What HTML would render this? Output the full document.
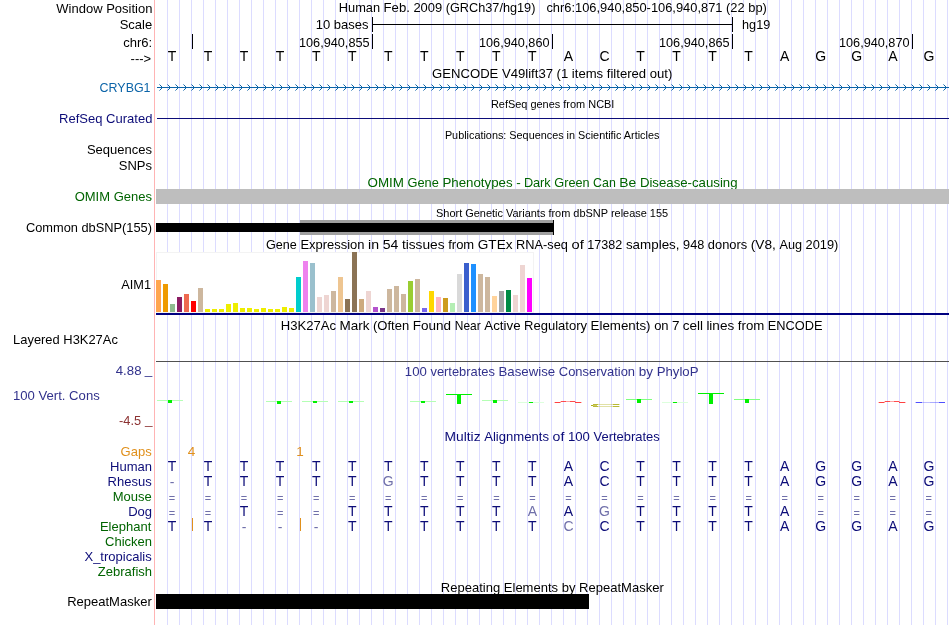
<!DOCTYPE html>
<html><head><meta charset="utf-8"><title>UCSC Genome Browser</title>
<style>html,body{margin:0;padding:0;background:#fff}svg{display:block}text{font-family:"Liberation Sans",Arial,sans-serif}</style>
</head><body>
<svg width="950" height="625" viewBox="0 0 950 625">
<rect x="0" y="0" width="950" height="625" fill="#fff"/>
<rect x="167" y="0" width="1" height="625" fill="#DCDCFF"/>
<rect x="179" y="0" width="1" height="625" fill="#DCDCFF"/>
<rect x="191" y="0" width="1" height="625" fill="#DCDCFF"/>
<rect x="203" y="0" width="1" height="625" fill="#DCDCFF"/>
<rect x="215" y="0" width="1" height="625" fill="#DCDCFF"/>
<rect x="227" y="0" width="1" height="625" fill="#DCDCFF"/>
<rect x="239" y="0" width="1" height="625" fill="#DCDCFF"/>
<rect x="251" y="0" width="1" height="625" fill="#DCDCFF"/>
<rect x="263" y="0" width="1" height="625" fill="#DCDCFF"/>
<rect x="275" y="0" width="1" height="625" fill="#DCDCFF"/>
<rect x="287" y="0" width="1" height="625" fill="#DCDCFF"/>
<rect x="299" y="0" width="1" height="625" fill="#DCDCFF"/>
<rect x="311" y="0" width="1" height="625" fill="#DCDCFF"/>
<rect x="323" y="0" width="1" height="625" fill="#DCDCFF"/>
<rect x="335" y="0" width="1" height="625" fill="#DCDCFF"/>
<rect x="347" y="0" width="1" height="625" fill="#DCDCFF"/>
<rect x="359" y="0" width="1" height="625" fill="#DCDCFF"/>
<rect x="371" y="0" width="1" height="625" fill="#DCDCFF"/>
<rect x="383" y="0" width="1" height="625" fill="#DCDCFF"/>
<rect x="395" y="0" width="1" height="625" fill="#DCDCFF"/>
<rect x="407" y="0" width="1" height="625" fill="#DCDCFF"/>
<rect x="419" y="0" width="1" height="625" fill="#DCDCFF"/>
<rect x="431" y="0" width="1" height="625" fill="#DCDCFF"/>
<rect x="443" y="0" width="1" height="625" fill="#DCDCFF"/>
<rect x="455" y="0" width="1" height="625" fill="#DCDCFF"/>
<rect x="467" y="0" width="1" height="625" fill="#DCDCFF"/>
<rect x="479" y="0" width="1" height="625" fill="#DCDCFF"/>
<rect x="491" y="0" width="1" height="625" fill="#DCDCFF"/>
<rect x="503" y="0" width="1" height="625" fill="#DCDCFF"/>
<rect x="515" y="0" width="1" height="625" fill="#DCDCFF"/>
<rect x="527" y="0" width="1" height="625" fill="#DCDCFF"/>
<rect x="539" y="0" width="1" height="625" fill="#DCDCFF"/>
<rect x="551" y="0" width="1" height="625" fill="#DCDCFF"/>
<rect x="563" y="0" width="1" height="625" fill="#DCDCFF"/>
<rect x="575" y="0" width="1" height="625" fill="#DCDCFF"/>
<rect x="587" y="0" width="1" height="625" fill="#DCDCFF"/>
<rect x="599" y="0" width="1" height="625" fill="#DCDCFF"/>
<rect x="611" y="0" width="1" height="625" fill="#DCDCFF"/>
<rect x="623" y="0" width="1" height="625" fill="#DCDCFF"/>
<rect x="635" y="0" width="1" height="625" fill="#DCDCFF"/>
<rect x="647" y="0" width="1" height="625" fill="#DCDCFF"/>
<rect x="659" y="0" width="1" height="625" fill="#DCDCFF"/>
<rect x="671" y="0" width="1" height="625" fill="#DCDCFF"/>
<rect x="683" y="0" width="1" height="625" fill="#DCDCFF"/>
<rect x="695" y="0" width="1" height="625" fill="#DCDCFF"/>
<rect x="707" y="0" width="1" height="625" fill="#DCDCFF"/>
<rect x="719" y="0" width="1" height="625" fill="#DCDCFF"/>
<rect x="731" y="0" width="1" height="625" fill="#DCDCFF"/>
<rect x="743" y="0" width="1" height="625" fill="#DCDCFF"/>
<rect x="755" y="0" width="1" height="625" fill="#DCDCFF"/>
<rect x="767" y="0" width="1" height="625" fill="#DCDCFF"/>
<rect x="779" y="0" width="1" height="625" fill="#DCDCFF"/>
<rect x="791" y="0" width="1" height="625" fill="#DCDCFF"/>
<rect x="803" y="0" width="1" height="625" fill="#DCDCFF"/>
<rect x="815" y="0" width="1" height="625" fill="#DCDCFF"/>
<rect x="827" y="0" width="1" height="625" fill="#DCDCFF"/>
<rect x="839" y="0" width="1" height="625" fill="#DCDCFF"/>
<rect x="851" y="0" width="1" height="625" fill="#DCDCFF"/>
<rect x="863" y="0" width="1" height="625" fill="#DCDCFF"/>
<rect x="875" y="0" width="1" height="625" fill="#DCDCFF"/>
<rect x="887" y="0" width="1" height="625" fill="#DCDCFF"/>
<rect x="899" y="0" width="1" height="625" fill="#DCDCFF"/>
<rect x="911" y="0" width="1" height="625" fill="#DCDCFF"/>
<rect x="923" y="0" width="1" height="625" fill="#DCDCFF"/>
<rect x="935" y="0" width="1" height="625" fill="#DCDCFF"/>
<rect x="947" y="0" width="1" height="625" fill="#DCDCFF"/>
<rect x="154" y="0" width="1" height="625" fill="#FFB4B4"/>
<text x="56.34" y="12.5" font-size="13.5" fill="#000" textLength="96.13" lengthAdjust="spacingAndGlyphs">Window Position</text>
<text x="119.64" y="29.3" font-size="13.5" fill="#000" textLength="32.56" lengthAdjust="spacingAndGlyphs">Scale</text>
<text x="123.16" y="46.5" font-size="13.5" fill="#000" textLength="28.97" lengthAdjust="spacingAndGlyphs">chr6:</text>
<text x="130.58" y="62.5" font-size="12.5" fill="#000" textLength="20.53" lengthAdjust="spacingAndGlyphs">---&gt;</text>
<text x="99.61" y="92" font-size="13.5" fill="#0C64A8" textLength="50.94" lengthAdjust="spacingAndGlyphs">CRYBG1</text>
<text x="59.08" y="123" font-size="13.5" fill="#0C0C78" textLength="93.29" lengthAdjust="spacingAndGlyphs">RefSeq Curated</text>
<text x="86.90" y="154" font-size="13.5" fill="#000" textLength="65.09" lengthAdjust="spacingAndGlyphs">Sequences</text>
<text x="118.72" y="170" font-size="13.5" fill="#000" textLength="33.27" lengthAdjust="spacingAndGlyphs">SNPs</text>
<text x="74.65" y="201" font-size="13.5" fill="#006400" textLength="77.34" lengthAdjust="spacingAndGlyphs">OMIM Genes</text>
<text x="25.91" y="231.5" font-size="13.5" fill="#000" textLength="126.12" lengthAdjust="spacingAndGlyphs">Common dbSNP(155)</text>
<text x="121.27" y="289" font-size="13.5" fill="#000" textLength="29.79" lengthAdjust="spacingAndGlyphs">AIM1</text>
<text x="13.09" y="344" font-size="13.5" fill="#000" textLength="104.76" lengthAdjust="spacingAndGlyphs">Layered H3K27Ac</text>
<text x="115.79" y="375" font-size="13.5" fill="#32328C" textLength="25.70" lengthAdjust="spacingAndGlyphs">4.88</text>
<text x="144.80" y="374" font-size="13.5" fill="#32328C">_</text>
<text x="12.97" y="400" font-size="13.5" fill="#32328C" textLength="86.77" lengthAdjust="spacingAndGlyphs">100 Vert. Cons</text>
<text x="119.00" y="425" font-size="13.5" fill="#8C3232" textLength="22.07" lengthAdjust="spacingAndGlyphs">-4.5</text>
<text x="145.00" y="424" font-size="13.5" fill="#8C3232">_</text>
<text x="120.57" y="456" font-size="13.5" fill="#E0901C" textLength="31.11" lengthAdjust="spacingAndGlyphs">Gaps</text>
<text x="110.10" y="471" font-size="13.5" fill="#0C0C78" textLength="41.98" lengthAdjust="spacingAndGlyphs">Human</text>
<text x="107.55" y="486" font-size="13.5" fill="#0C0C78" textLength="44.14" lengthAdjust="spacingAndGlyphs">Rhesus</text>
<text x="112.72" y="501" font-size="13.5" fill="#006400" textLength="39.08" lengthAdjust="spacingAndGlyphs">Mouse</text>
<text x="128.15" y="516" font-size="13.5" fill="#0C0C78" textLength="23.92" lengthAdjust="spacingAndGlyphs">Dog</text>
<text x="99.93" y="531" font-size="13.5" fill="#006400" textLength="51.37" lengthAdjust="spacingAndGlyphs">Elephant</text>
<text x="105.05" y="546" font-size="13.5" fill="#006400" textLength="47.02" lengthAdjust="spacingAndGlyphs">Chicken</text>
<text x="84.46" y="561" font-size="13.5" fill="#0C0C78" textLength="67.23" lengthAdjust="spacingAndGlyphs">X_tropicalis</text>
<text x="97.84" y="576" font-size="13.5" fill="#006400" textLength="54.24" lengthAdjust="spacingAndGlyphs">Zebrafish</text>
<text x="67.14" y="606" font-size="13.5" fill="#000" textLength="84.59" lengthAdjust="spacingAndGlyphs">RepeatMasker</text>
<text x="338.79" y="12" font-size="13.5" fill="#000" textLength="41.26" lengthAdjust="spacingAndGlyphs">Human</text>
<text x="383.59" y="12" font-size="13.5" fill="#000" textLength="26.29" lengthAdjust="spacingAndGlyphs">Feb.</text>
<text x="413.42" y="12" font-size="13.5" fill="#000" textLength="28.78" lengthAdjust="spacingAndGlyphs">2009</text>
<text x="445.76" y="12" font-size="13.5" fill="#000" textLength="89.67" lengthAdjust="spacingAndGlyphs">(GRCh37/hg19)</text>
<text x="546.43" y="12" font-size="13.5" fill="#000" textLength="220.41" lengthAdjust="spacingAndGlyphs">chr6:106,940,850-106,940,871 (22 bp)</text>
<text x="315.67" y="29" font-size="13.5" fill="#000" textLength="52.82" lengthAdjust="spacingAndGlyphs">10 bases</text>
<rect x="372" y="17" width="1" height="15" fill="#000"/>
<rect x="732" y="17" width="1" height="15" fill="#000"/>
<rect x="372" y="24" width="361" height="1" fill="#000"/>
<text x="742.06" y="29" font-size="13.5" fill="#000" textLength="28.18" lengthAdjust="spacingAndGlyphs">hg19</text>
<rect x="192" y="34" width="1" height="15" fill="#000"/>
<rect x="372" y="34" width="1" height="15" fill="#000"/>
<text x="298.97" y="47" font-size="13.5" fill="#000" textLength="70.60" lengthAdjust="spacingAndGlyphs">106,940,855</text>
<rect x="552" y="34" width="1" height="15" fill="#000"/>
<text x="478.97" y="47" font-size="13.5" fill="#000" textLength="70.56" lengthAdjust="spacingAndGlyphs">106,940,860</text>
<rect x="732" y="34" width="1" height="15" fill="#000"/>
<text x="658.97" y="47" font-size="13.5" fill="#000" textLength="70.60" lengthAdjust="spacingAndGlyphs">106,940,865</text>
<rect x="912" y="34" width="1" height="15" fill="#000"/>
<text x="838.97" y="47" font-size="13.5" fill="#000" textLength="70.56" lengthAdjust="spacingAndGlyphs">106,940,870</text>
<text x="172.00" y="61" font-size="14" fill="#000" text-anchor="middle">T</text>
<text x="208.04" y="61" font-size="14" fill="#000" text-anchor="middle">T</text>
<text x="244.08" y="61" font-size="14" fill="#000" text-anchor="middle">T</text>
<text x="280.12" y="61" font-size="14" fill="#000" text-anchor="middle">T</text>
<text x="316.16" y="61" font-size="14" fill="#000" text-anchor="middle">T</text>
<text x="352.20" y="61" font-size="14" fill="#000" text-anchor="middle">T</text>
<text x="388.24" y="61" font-size="14" fill="#000" text-anchor="middle">T</text>
<text x="424.28" y="61" font-size="14" fill="#000" text-anchor="middle">T</text>
<text x="460.32" y="61" font-size="14" fill="#000" text-anchor="middle">T</text>
<text x="496.36" y="61" font-size="14" fill="#000" text-anchor="middle">T</text>
<text x="532.40" y="61" font-size="14" fill="#000" text-anchor="middle">T</text>
<text x="568.44" y="61" font-size="14" fill="#000" text-anchor="middle">A</text>
<text x="604.48" y="61" font-size="14" fill="#000" text-anchor="middle">C</text>
<text x="640.52" y="61" font-size="14" fill="#000" text-anchor="middle">T</text>
<text x="676.56" y="61" font-size="14" fill="#000" text-anchor="middle">T</text>
<text x="712.60" y="61" font-size="14" fill="#000" text-anchor="middle">T</text>
<text x="748.64" y="61" font-size="14" fill="#000" text-anchor="middle">T</text>
<text x="784.68" y="61" font-size="14" fill="#000" text-anchor="middle">A</text>
<text x="820.72" y="61" font-size="14" fill="#000" text-anchor="middle">G</text>
<text x="856.76" y="61" font-size="14" fill="#000" text-anchor="middle">G</text>
<text x="892.80" y="61" font-size="14" fill="#000" text-anchor="middle">A</text>
<text x="928.84" y="61" font-size="14" fill="#000" text-anchor="middle">G</text>
<text x="432.12" y="78" font-size="13.5" fill="#000" textLength="240.22" lengthAdjust="spacingAndGlyphs">GENCODE V49lift37 (1 items filtered out)</text>
<rect x="157" y="87" width="792" height="1" fill="#0C64A8"/>
<path d="M161 86h1v3h-1zM160 85h1v1h-1zM160 89h1v1h-1zM169 86h1v3h-1zM168 85h1v1h-1zM168 89h1v1h-1zM177 86h1v3h-1zM176 85h1v1h-1zM176 89h1v1h-1zM185 86h1v3h-1zM184 85h1v1h-1zM184 89h1v1h-1zM193 86h1v3h-1zM192 85h1v1h-1zM192 89h1v1h-1zM201 86h1v3h-1zM200 85h1v1h-1zM200 89h1v1h-1zM209 86h1v3h-1zM208 85h1v1h-1zM208 89h1v1h-1zM217 86h1v3h-1zM216 85h1v1h-1zM216 89h1v1h-1zM225 86h1v3h-1zM224 85h1v1h-1zM224 89h1v1h-1zM233 86h1v3h-1zM232 85h1v1h-1zM232 89h1v1h-1zM241 86h1v3h-1zM240 85h1v1h-1zM240 89h1v1h-1zM249 86h1v3h-1zM248 85h1v1h-1zM248 89h1v1h-1zM257 86h1v3h-1zM256 85h1v1h-1zM256 89h1v1h-1zM265 86h1v3h-1zM264 85h1v1h-1zM264 89h1v1h-1zM273 86h1v3h-1zM272 85h1v1h-1zM272 89h1v1h-1zM281 86h1v3h-1zM280 85h1v1h-1zM280 89h1v1h-1zM289 86h1v3h-1zM288 85h1v1h-1zM288 89h1v1h-1zM297 86h1v3h-1zM296 85h1v1h-1zM296 89h1v1h-1zM305 86h1v3h-1zM304 85h1v1h-1zM304 89h1v1h-1zM313 86h1v3h-1zM312 85h1v1h-1zM312 89h1v1h-1zM321 86h1v3h-1zM320 85h1v1h-1zM320 89h1v1h-1zM329 86h1v3h-1zM328 85h1v1h-1zM328 89h1v1h-1zM337 86h1v3h-1zM336 85h1v1h-1zM336 89h1v1h-1zM345 86h1v3h-1zM344 85h1v1h-1zM344 89h1v1h-1zM353 86h1v3h-1zM352 85h1v1h-1zM352 89h1v1h-1zM361 86h1v3h-1zM360 85h1v1h-1zM360 89h1v1h-1zM369 86h1v3h-1zM368 85h1v1h-1zM368 89h1v1h-1zM377 86h1v3h-1zM376 85h1v1h-1zM376 89h1v1h-1zM385 86h1v3h-1zM384 85h1v1h-1zM384 89h1v1h-1zM393 86h1v3h-1zM392 85h1v1h-1zM392 89h1v1h-1zM401 86h1v3h-1zM400 85h1v1h-1zM400 89h1v1h-1zM409 86h1v3h-1zM408 85h1v1h-1zM408 89h1v1h-1zM417 86h1v3h-1zM416 85h1v1h-1zM416 89h1v1h-1zM425 86h1v3h-1zM424 85h1v1h-1zM424 89h1v1h-1zM433 86h1v3h-1zM432 85h1v1h-1zM432 89h1v1h-1zM441 86h1v3h-1zM440 85h1v1h-1zM440 89h1v1h-1zM449 86h1v3h-1zM448 85h1v1h-1zM448 89h1v1h-1zM457 86h1v3h-1zM456 85h1v1h-1zM456 89h1v1h-1zM465 86h1v3h-1zM464 85h1v1h-1zM464 89h1v1h-1zM473 86h1v3h-1zM472 85h1v1h-1zM472 89h1v1h-1zM481 86h1v3h-1zM480 85h1v1h-1zM480 89h1v1h-1zM489 86h1v3h-1zM488 85h1v1h-1zM488 89h1v1h-1zM497 86h1v3h-1zM496 85h1v1h-1zM496 89h1v1h-1zM505 86h1v3h-1zM504 85h1v1h-1zM504 89h1v1h-1zM513 86h1v3h-1zM512 85h1v1h-1zM512 89h1v1h-1zM521 86h1v3h-1zM520 85h1v1h-1zM520 89h1v1h-1zM529 86h1v3h-1zM528 85h1v1h-1zM528 89h1v1h-1zM537 86h1v3h-1zM536 85h1v1h-1zM536 89h1v1h-1zM545 86h1v3h-1zM544 85h1v1h-1zM544 89h1v1h-1zM553 86h1v3h-1zM552 85h1v1h-1zM552 89h1v1h-1zM561 86h1v3h-1zM560 85h1v1h-1zM560 89h1v1h-1zM569 86h1v3h-1zM568 85h1v1h-1zM568 89h1v1h-1zM577 86h1v3h-1zM576 85h1v1h-1zM576 89h1v1h-1zM585 86h1v3h-1zM584 85h1v1h-1zM584 89h1v1h-1zM593 86h1v3h-1zM592 85h1v1h-1zM592 89h1v1h-1zM601 86h1v3h-1zM600 85h1v1h-1zM600 89h1v1h-1zM609 86h1v3h-1zM608 85h1v1h-1zM608 89h1v1h-1zM617 86h1v3h-1zM616 85h1v1h-1zM616 89h1v1h-1zM625 86h1v3h-1zM624 85h1v1h-1zM624 89h1v1h-1zM633 86h1v3h-1zM632 85h1v1h-1zM632 89h1v1h-1zM641 86h1v3h-1zM640 85h1v1h-1zM640 89h1v1h-1zM649 86h1v3h-1zM648 85h1v1h-1zM648 89h1v1h-1zM657 86h1v3h-1zM656 85h1v1h-1zM656 89h1v1h-1zM665 86h1v3h-1zM664 85h1v1h-1zM664 89h1v1h-1zM673 86h1v3h-1zM672 85h1v1h-1zM672 89h1v1h-1zM681 86h1v3h-1zM680 85h1v1h-1zM680 89h1v1h-1zM689 86h1v3h-1zM688 85h1v1h-1zM688 89h1v1h-1zM697 86h1v3h-1zM696 85h1v1h-1zM696 89h1v1h-1zM705 86h1v3h-1zM704 85h1v1h-1zM704 89h1v1h-1zM713 86h1v3h-1zM712 85h1v1h-1zM712 89h1v1h-1zM721 86h1v3h-1zM720 85h1v1h-1zM720 89h1v1h-1zM729 86h1v3h-1zM728 85h1v1h-1zM728 89h1v1h-1zM737 86h1v3h-1zM736 85h1v1h-1zM736 89h1v1h-1zM745 86h1v3h-1zM744 85h1v1h-1zM744 89h1v1h-1zM753 86h1v3h-1zM752 85h1v1h-1zM752 89h1v1h-1zM761 86h1v3h-1zM760 85h1v1h-1zM760 89h1v1h-1zM769 86h1v3h-1zM768 85h1v1h-1zM768 89h1v1h-1zM777 86h1v3h-1zM776 85h1v1h-1zM776 89h1v1h-1zM785 86h1v3h-1zM784 85h1v1h-1zM784 89h1v1h-1zM793 86h1v3h-1zM792 85h1v1h-1zM792 89h1v1h-1zM801 86h1v3h-1zM800 85h1v1h-1zM800 89h1v1h-1zM809 86h1v3h-1zM808 85h1v1h-1zM808 89h1v1h-1zM817 86h1v3h-1zM816 85h1v1h-1zM816 89h1v1h-1zM825 86h1v3h-1zM824 85h1v1h-1zM824 89h1v1h-1zM833 86h1v3h-1zM832 85h1v1h-1zM832 89h1v1h-1zM841 86h1v3h-1zM840 85h1v1h-1zM840 89h1v1h-1zM849 86h1v3h-1zM848 85h1v1h-1zM848 89h1v1h-1zM857 86h1v3h-1zM856 85h1v1h-1zM856 89h1v1h-1zM865 86h1v3h-1zM864 85h1v1h-1zM864 89h1v1h-1zM873 86h1v3h-1zM872 85h1v1h-1zM872 89h1v1h-1zM881 86h1v3h-1zM880 85h1v1h-1zM880 89h1v1h-1zM889 86h1v3h-1zM888 85h1v1h-1zM888 89h1v1h-1zM897 86h1v3h-1zM896 85h1v1h-1zM896 89h1v1h-1zM905 86h1v3h-1zM904 85h1v1h-1zM904 89h1v1h-1zM913 86h1v3h-1zM912 85h1v1h-1zM912 89h1v1h-1zM921 86h1v3h-1zM920 85h1v1h-1zM920 89h1v1h-1zM929 86h1v3h-1zM928 85h1v1h-1zM928 89h1v1h-1zM937 86h1v3h-1zM936 85h1v1h-1zM936 89h1v1h-1zM945 86h1v3h-1zM944 85h1v1h-1zM944 89h1v1h-1z" fill="#0C64A8"/>
<path d="M159 84h1v1h-1zM159 90h1v1h-1zM167 84h1v1h-1zM167 90h1v1h-1zM175 84h1v1h-1zM175 90h1v1h-1zM183 84h1v1h-1zM183 90h1v1h-1zM191 84h1v1h-1zM191 90h1v1h-1zM199 84h1v1h-1zM199 90h1v1h-1zM207 84h1v1h-1zM207 90h1v1h-1zM215 84h1v1h-1zM215 90h1v1h-1zM223 84h1v1h-1zM223 90h1v1h-1zM231 84h1v1h-1zM231 90h1v1h-1zM239 84h1v1h-1zM239 90h1v1h-1zM247 84h1v1h-1zM247 90h1v1h-1zM255 84h1v1h-1zM255 90h1v1h-1zM263 84h1v1h-1zM263 90h1v1h-1zM271 84h1v1h-1zM271 90h1v1h-1zM279 84h1v1h-1zM279 90h1v1h-1zM287 84h1v1h-1zM287 90h1v1h-1zM295 84h1v1h-1zM295 90h1v1h-1zM303 84h1v1h-1zM303 90h1v1h-1zM311 84h1v1h-1zM311 90h1v1h-1zM319 84h1v1h-1zM319 90h1v1h-1zM327 84h1v1h-1zM327 90h1v1h-1zM335 84h1v1h-1zM335 90h1v1h-1zM343 84h1v1h-1zM343 90h1v1h-1zM351 84h1v1h-1zM351 90h1v1h-1zM359 84h1v1h-1zM359 90h1v1h-1zM367 84h1v1h-1zM367 90h1v1h-1zM375 84h1v1h-1zM375 90h1v1h-1zM383 84h1v1h-1zM383 90h1v1h-1zM391 84h1v1h-1zM391 90h1v1h-1zM399 84h1v1h-1zM399 90h1v1h-1zM407 84h1v1h-1zM407 90h1v1h-1zM415 84h1v1h-1zM415 90h1v1h-1zM423 84h1v1h-1zM423 90h1v1h-1zM431 84h1v1h-1zM431 90h1v1h-1zM439 84h1v1h-1zM439 90h1v1h-1zM447 84h1v1h-1zM447 90h1v1h-1zM455 84h1v1h-1zM455 90h1v1h-1zM463 84h1v1h-1zM463 90h1v1h-1zM471 84h1v1h-1zM471 90h1v1h-1zM479 84h1v1h-1zM479 90h1v1h-1zM487 84h1v1h-1zM487 90h1v1h-1zM495 84h1v1h-1zM495 90h1v1h-1zM503 84h1v1h-1zM503 90h1v1h-1zM511 84h1v1h-1zM511 90h1v1h-1zM519 84h1v1h-1zM519 90h1v1h-1zM527 84h1v1h-1zM527 90h1v1h-1zM535 84h1v1h-1zM535 90h1v1h-1zM543 84h1v1h-1zM543 90h1v1h-1zM551 84h1v1h-1zM551 90h1v1h-1zM559 84h1v1h-1zM559 90h1v1h-1zM567 84h1v1h-1zM567 90h1v1h-1zM575 84h1v1h-1zM575 90h1v1h-1zM583 84h1v1h-1zM583 90h1v1h-1zM591 84h1v1h-1zM591 90h1v1h-1zM599 84h1v1h-1zM599 90h1v1h-1zM607 84h1v1h-1zM607 90h1v1h-1zM615 84h1v1h-1zM615 90h1v1h-1zM623 84h1v1h-1zM623 90h1v1h-1zM631 84h1v1h-1zM631 90h1v1h-1zM639 84h1v1h-1zM639 90h1v1h-1zM647 84h1v1h-1zM647 90h1v1h-1zM655 84h1v1h-1zM655 90h1v1h-1zM663 84h1v1h-1zM663 90h1v1h-1zM671 84h1v1h-1zM671 90h1v1h-1zM679 84h1v1h-1zM679 90h1v1h-1zM687 84h1v1h-1zM687 90h1v1h-1zM695 84h1v1h-1zM695 90h1v1h-1zM703 84h1v1h-1zM703 90h1v1h-1zM711 84h1v1h-1zM711 90h1v1h-1zM719 84h1v1h-1zM719 90h1v1h-1zM727 84h1v1h-1zM727 90h1v1h-1zM735 84h1v1h-1zM735 90h1v1h-1zM743 84h1v1h-1zM743 90h1v1h-1zM751 84h1v1h-1zM751 90h1v1h-1zM759 84h1v1h-1zM759 90h1v1h-1zM767 84h1v1h-1zM767 90h1v1h-1zM775 84h1v1h-1zM775 90h1v1h-1zM783 84h1v1h-1zM783 90h1v1h-1zM791 84h1v1h-1zM791 90h1v1h-1zM799 84h1v1h-1zM799 90h1v1h-1zM807 84h1v1h-1zM807 90h1v1h-1zM815 84h1v1h-1zM815 90h1v1h-1zM823 84h1v1h-1zM823 90h1v1h-1zM831 84h1v1h-1zM831 90h1v1h-1zM839 84h1v1h-1zM839 90h1v1h-1zM847 84h1v1h-1zM847 90h1v1h-1zM855 84h1v1h-1zM855 90h1v1h-1zM863 84h1v1h-1zM863 90h1v1h-1zM871 84h1v1h-1zM871 90h1v1h-1zM879 84h1v1h-1zM879 90h1v1h-1zM887 84h1v1h-1zM887 90h1v1h-1zM895 84h1v1h-1zM895 90h1v1h-1zM903 84h1v1h-1zM903 90h1v1h-1zM911 84h1v1h-1zM911 90h1v1h-1zM919 84h1v1h-1zM919 90h1v1h-1zM927 84h1v1h-1zM927 90h1v1h-1zM935 84h1v1h-1zM935 90h1v1h-1zM943 84h1v1h-1zM943 90h1v1h-1z" fill="#0C64A8" opacity="0.55"/>
<text x="490.90" y="107.6" font-size="11" fill="#000" textLength="123.52" lengthAdjust="spacingAndGlyphs">RefSeq genes from NCBI</text>
<rect x="157" y="118" width="792" height="1" fill="#0C0C78"/>
<text x="444.90" y="138.6" font-size="11" fill="#000" textLength="214.50" lengthAdjust="spacingAndGlyphs">Publications: Sequences in Scientific Articles</text>
<text x="367.56" y="187" font-size="13.5" fill="#006400" textLength="36.41" lengthAdjust="spacingAndGlyphs">OMIM</text>
<text x="407.52" y="187" font-size="13.5" fill="#006400" textLength="31.32" lengthAdjust="spacingAndGlyphs">Gene</text>
<text x="442.39" y="187" font-size="13.5" fill="#006400" textLength="70.24" lengthAdjust="spacingAndGlyphs">Phenotypes</text>
<text x="516.20" y="187" font-size="13.5" fill="#006400">-</text>
<text x="523.89" y="187" font-size="13.5" fill="#006400" textLength="26.84" lengthAdjust="spacingAndGlyphs">Dark</text>
<text x="554.32" y="187" font-size="13.5" fill="#006400" textLength="35.24" lengthAdjust="spacingAndGlyphs">Green</text>
<text x="593.11" y="187" font-size="13.5" fill="#006400" textLength="22.74" lengthAdjust="spacingAndGlyphs">Can</text>
<text x="619.39" y="187" font-size="13.5" fill="#006400" textLength="16.95" lengthAdjust="spacingAndGlyphs">Be</text>
<text x="639.89" y="187" font-size="13.5" fill="#006400" textLength="97.68" lengthAdjust="spacingAndGlyphs">Disease-causing</text>
<rect x="156" y="189" width="793" height="15" fill="#BEBEBE"/>
<text x="436.00" y="217" font-size="11" fill="#000" textLength="232.16" lengthAdjust="spacingAndGlyphs">Short Genetic Variants from dbSNP release 155</text>
<rect x="300" y="220" width="253" height="15" fill="#A0A0A0"/>
<rect x="156" y="223" width="398" height="9" fill="#000"/>
<rect x="553" y="220" width="1" height="15" fill="#000"/>
<text x="266.02" y="249" font-size="13.5" fill="#000" textLength="30.82" lengthAdjust="spacingAndGlyphs">Gene</text>
<text x="300.39" y="249" font-size="13.5" fill="#000" textLength="64.16" lengthAdjust="spacingAndGlyphs">Expression</text>
<text x="368.10" y="249" font-size="13.5" fill="#000" textLength="11.00" lengthAdjust="spacingAndGlyphs">in</text>
<text x="382.66" y="249" font-size="13.5" fill="#000" textLength="15.65" lengthAdjust="spacingAndGlyphs">54</text>
<text x="401.90" y="249" font-size="13.5" fill="#000" textLength="42.73" lengthAdjust="spacingAndGlyphs">tissues</text>
<text x="448.21" y="249" font-size="13.5" fill="#000" textLength="25.96" lengthAdjust="spacingAndGlyphs">from</text>
<text x="477.72" y="249" font-size="13.5" fill="#000" textLength="34.81" lengthAdjust="spacingAndGlyphs">GTEx</text>
<text x="516.09" y="249" font-size="13.5" fill="#000" textLength="51.88" lengthAdjust="spacingAndGlyphs">RNA-seq</text>
<text x="571.53" y="249" font-size="13.5" fill="#000" textLength="12.26" lengthAdjust="spacingAndGlyphs">of</text>
<text x="587.37" y="249" font-size="13.5" fill="#000" textLength="34.98" lengthAdjust="spacingAndGlyphs">17382</text>
<text x="625.92" y="249" font-size="13.5" fill="#000" textLength="53.60" lengthAdjust="spacingAndGlyphs">samples,</text>
<text x="683.07" y="249" font-size="13.5" fill="#000" textLength="21.20" lengthAdjust="spacingAndGlyphs">948</text>
<text x="707.83" y="249" font-size="13.5" fill="#000" textLength="39.37" lengthAdjust="spacingAndGlyphs">donors</text>
<text x="750.76" y="249" font-size="13.5" fill="#000" textLength="25.14" lengthAdjust="spacingAndGlyphs">(V8,</text>
<text x="779.47" y="249" font-size="13.5" fill="#000" textLength="22.59" lengthAdjust="spacingAndGlyphs">Aug</text>
<text x="805.62" y="249" font-size="13.5" fill="#000" textLength="32.72" lengthAdjust="spacingAndGlyphs">2019)</text>
<rect x="156" y="252" width="378" height="61" fill="#fff"/>
<rect x="156.5" y="252.5" width="377" height="60" fill="none" stroke="#F3F3F3" stroke-width="1"/>
<rect x="156" y="280" width="5" height="32" fill="#FFA54F"/>
<rect x="163" y="284" width="5" height="28" fill="#EE9A00"/>
<rect x="170" y="304" width="5" height="8" fill="#8FBC8F"/>
<rect x="177" y="297" width="5" height="15" fill="#8B1C62"/>
<rect x="184" y="294" width="5" height="18" fill="#EE6A50"/>
<rect x="191" y="301" width="5" height="11" fill="#FF0000"/>
<rect x="198" y="288" width="5" height="24" fill="#CDB79E"/>
<rect x="205" y="309" width="5" height="3" fill="#EEEE00"/>
<rect x="212" y="309" width="5" height="3" fill="#EEEE00"/>
<rect x="219" y="309" width="5" height="3" fill="#EEEE00"/>
<rect x="226" y="304" width="5" height="8" fill="#EEEE00"/>
<rect x="233" y="303" width="5" height="9" fill="#EEEE00"/>
<rect x="240" y="308" width="5" height="4" fill="#EEEE00"/>
<rect x="247" y="308" width="5" height="4" fill="#EEEE00"/>
<rect x="254" y="309" width="5" height="3" fill="#EEEE00"/>
<rect x="261" y="308" width="5" height="4" fill="#EEEE00"/>
<rect x="268" y="309" width="5" height="3" fill="#EEEE00"/>
<rect x="275" y="309" width="5" height="3" fill="#EEEE00"/>
<rect x="282" y="307" width="5" height="5" fill="#EEEE00"/>
<rect x="289" y="308" width="5" height="4" fill="#EEEE00"/>
<rect x="296" y="277" width="5" height="35" fill="#00CDCD"/>
<rect x="303" y="261" width="5" height="51" fill="#EE82EE"/>
<rect x="310" y="263" width="5" height="49" fill="#9AC0CD"/>
<rect x="317" y="297" width="5" height="15" fill="#EED5D2"/>
<rect x="324" y="295" width="5" height="17" fill="#EED5D2"/>
<rect x="331" y="291" width="5" height="21" fill="#CDB79E"/>
<rect x="338" y="277" width="5" height="35" fill="#EEC591"/>
<rect x="345" y="299" width="5" height="13" fill="#8B7355"/>
<rect x="352" y="252" width="5" height="60" fill="#8B7355"/>
<rect x="359" y="299" width="5" height="13" fill="#CDAA7D"/>
<rect x="366" y="291" width="5" height="21" fill="#EED5D2"/>
<rect x="373" y="307" width="5" height="5" fill="#B452CD"/>
<rect x="380" y="308" width="5" height="4" fill="#7A378B"/>
<rect x="387" y="289" width="5" height="23" fill="#CDB79E"/>
<rect x="394" y="286" width="5" height="26" fill="#CDB79E"/>
<rect x="401" y="294" width="5" height="18" fill="#CDB79E"/>
<rect x="408" y="281" width="5" height="31" fill="#9ACD32"/>
<rect x="415" y="279" width="5" height="33" fill="#CDB79E"/>
<rect x="422" y="308" width="5" height="4" fill="#7A67EE"/>
<rect x="429" y="291" width="5" height="21" fill="#FFD700"/>
<rect x="436" y="297" width="5" height="15" fill="#FFB6C1"/>
<rect x="443" y="298" width="5" height="14" fill="#CD9B1D"/>
<rect x="450" y="303" width="5" height="9" fill="#B4EEB4"/>
<rect x="457" y="274" width="5" height="38" fill="#D9D9D9"/>
<rect x="464" y="263" width="5" height="49" fill="#3A5FCD"/>
<rect x="471" y="264" width="5" height="48" fill="#1E90FF"/>
<rect x="478" y="274" width="5" height="38" fill="#CDB79E"/>
<rect x="485" y="277" width="5" height="35" fill="#CDB79E"/>
<rect x="492" y="296" width="5" height="16" fill="#FFD39B"/>
<rect x="499" y="291" width="5" height="21" fill="#A6A6A6"/>
<rect x="506" y="290" width="5" height="22" fill="#008B45"/>
<rect x="513" y="295" width="5" height="17" fill="#EED5D2"/>
<rect x="520" y="265" width="5" height="47" fill="#EED5D2"/>
<rect x="527" y="278" width="5" height="34" fill="#FF00FF"/>
<rect x="156" y="313" width="793" height="2" fill="#000080"/>
<text x="280.69" y="330" font-size="13.5" fill="#000" textLength="55.34" lengthAdjust="spacingAndGlyphs">H3K27Ac</text>
<text x="339.59" y="330" font-size="13.5" fill="#000">Mark</text>
<text x="372.96" y="330" font-size="13.5" fill="#000" textLength="36.19" lengthAdjust="spacingAndGlyphs">(Often</text>
<text x="412.69" y="330" font-size="13.5" fill="#000">Found</text>
<text x="454.79" y="330" font-size="13.5" fill="#000" textLength="25.88" lengthAdjust="spacingAndGlyphs">Near</text>
<text x="484.27" y="330" font-size="13.5" fill="#000" textLength="36.27" lengthAdjust="spacingAndGlyphs">Active</text>
<text x="524.09" y="330" font-size="13.5" fill="#000" textLength="62.93" lengthAdjust="spacingAndGlyphs">Regulatory</text>
<text x="590.59" y="330" font-size="13.5" fill="#000" textLength="59.98" lengthAdjust="spacingAndGlyphs">Elements)</text>
<text x="654.13" y="330" font-size="13.5" fill="#000" textLength="14.51" lengthAdjust="spacingAndGlyphs">on</text>
<text x="672.01" y="330" font-size="13.5" fill="#000">7</text>
<text x="682.73" y="330" font-size="13.5" fill="#000">cell</text>
<text x="706.39" y="330" font-size="13.5" fill="#000">lines</text>
<text x="737.81" y="330" font-size="13.5" fill="#000" textLength="26.45" lengthAdjust="spacingAndGlyphs">from</text>
<text x="767.79" y="330" font-size="13.5" fill="#000" textLength="54.79" lengthAdjust="spacingAndGlyphs">ENCODE</text>
<rect x="156" y="361" width="793" height="1" fill="#505050"/>
<text x="404.87" y="376" font-size="13.5" fill="#32328C" textLength="21.99" lengthAdjust="spacingAndGlyphs">100</text>
<text x="430.45" y="376" font-size="13.5" fill="#32328C" textLength="64.49" lengthAdjust="spacingAndGlyphs">vertebrates</text>
<text x="498.49" y="376" font-size="13.5" fill="#32328C" textLength="56.76" lengthAdjust="spacingAndGlyphs">Basewise</text>
<text x="558.81" y="376" font-size="13.5" fill="#32328C" textLength="76.27" lengthAdjust="spacingAndGlyphs">Conservation</text>
<text x="638.63" y="376" font-size="13.5" fill="#32328C">by</text>
<text x="656.69" y="376" font-size="13.5" fill="#32328C" textLength="41.82" lengthAdjust="spacingAndGlyphs">PhyloP</text>
<rect x="157" y="400" width="26" height="1" fill="#B4FFB4"/>
<rect x="168" y="400" width="4" height="3" fill="#00F000"/>
<rect x="266" y="401" width="26" height="1" fill="#B4FFB4"/>
<rect x="277" y="401" width="4" height="3" fill="#00F000"/>
<rect x="302" y="401" width="26" height="1" fill="#B4FFB4"/>
<rect x="313" y="401" width="4" height="2" fill="#00F000"/>
<rect x="338" y="401" width="26" height="1" fill="#B4FFB4"/>
<rect x="349" y="401" width="4" height="2" fill="#00F000"/>
<rect x="410" y="401" width="26" height="1" fill="#B4FFB4"/>
<rect x="421" y="401" width="4" height="2" fill="#00F000"/>
<rect x="446" y="394" width="26" height="1" fill="#00F000"/>
<rect x="457" y="394" width="4" height="10" fill="#00F000"/>
<rect x="482" y="400" width="26" height="1" fill="#B4FFB4"/>
<rect x="493" y="400" width="4" height="3" fill="#00F000"/>
<rect x="518" y="402" width="26" height="1" fill="#DDFFDD"/>
<rect x="529" y="402" width="4" height="1" fill="#00F000"/>
<rect x="626" y="399" width="26" height="1" fill="#80FF80"/>
<rect x="637" y="399" width="4" height="4" fill="#00F000"/>
<rect x="662" y="402" width="26" height="1" fill="#DDFFDD"/>
<rect x="673" y="402" width="4" height="1" fill="#00F000"/>
<rect x="698" y="393" width="26" height="1" fill="#00F000"/>
<rect x="709" y="393" width="4" height="11" fill="#00F000"/>
<rect x="734" y="399" width="26" height="1" fill="#80FF80"/>
<rect x="745" y="399" width="4" height="4" fill="#00F000"/>
<rect x="554" y="402" width="1" height="1" fill="#FF2020" opacity="0.3"/>
<rect x="555" y="402" width="5" height="1" fill="#FF2020" opacity="0.85"/>
<rect x="560" y="402" width="1" height="1" fill="#FF2020" opacity="0.45"/>
<rect x="560" y="401" width="1" height="1" fill="#FF2020" opacity="0.25"/>
<rect x="561" y="401" width="5" height="1" fill="#FF2020" opacity="0.8"/>
<rect x="566" y="401" width="4" height="1" fill="#FF2020" opacity="0.4"/>
<rect x="570" y="401" width="5" height="1" fill="#FF2020" opacity="0.8"/>
<rect x="575" y="401" width="1" height="1" fill="#FF2020" opacity="0.3"/>
<rect x="575" y="402" width="6" height="1" fill="#FF2020" opacity="0.85"/>
<rect x="581" y="402" width="1" height="1" fill="#FF2020" opacity="0.3"/>
<rect x="878" y="402" width="1" height="1" fill="#FF2020" opacity="0.3"/>
<rect x="879" y="402" width="5" height="1" fill="#FF2020" opacity="0.85"/>
<rect x="884" y="402" width="1" height="1" fill="#FF2020" opacity="0.45"/>
<rect x="884" y="401" width="1" height="1" fill="#FF2020" opacity="0.25"/>
<rect x="885" y="401" width="5" height="1" fill="#FF2020" opacity="0.8"/>
<rect x="890" y="401" width="4" height="1" fill="#FF2020" opacity="0.4"/>
<rect x="894" y="401" width="5" height="1" fill="#FF2020" opacity="0.8"/>
<rect x="899" y="401" width="1" height="1" fill="#FF2020" opacity="0.3"/>
<rect x="899" y="402" width="6" height="1" fill="#FF2020" opacity="0.85"/>
<rect x="905" y="402" width="1" height="1" fill="#FF2020" opacity="0.3"/>
<rect x="915" y="402" width="1" height="1" fill="#3030FF" opacity="0.3"/>
<rect x="916" y="402" width="6" height="1" fill="#3030FF" opacity="0.85"/>
<rect x="922" y="402" width="8" height="1" fill="#3030FF" opacity="0.3"/>
<rect x="930" y="402" width="9" height="1" fill="#3030FF" opacity="0.4"/>
<rect x="939" y="402" width="6" height="1" fill="#3030FF" opacity="0.85"/>
<rect x="591" y="405" width="2" height="1" fill="#A8A800" opacity="0.9"/>
<rect x="593" y="405" width="4" height="1" fill="#A8A800" opacity="0.6"/>
<rect x="593" y="404" width="5" height="1" fill="#A8A800" opacity="0.8"/>
<rect x="593" y="406" width="5" height="1" fill="#A8A800" opacity="0.8"/>
<rect x="598" y="404" width="15" height="1" fill="#A8A800" opacity="0.35"/>
<rect x="598" y="406" width="15" height="1" fill="#A8A800" opacity="0.35"/>
<rect x="613" y="404" width="6" height="1" fill="#A8A800" opacity="0.8"/>
<rect x="613" y="406" width="6" height="1" fill="#A8A800" opacity="0.8"/>
<rect x="619" y="404" width="1" height="1" fill="#A8A800" opacity="0.3"/>
<rect x="619" y="406" width="1" height="1" fill="#A8A800" opacity="0.3"/>
<text x="444.59" y="441.3" font-size="13.5" fill="#0C0C78" textLength="36.00" lengthAdjust="spacingAndGlyphs">Multiz</text>
<text x="484.17" y="441.3" font-size="13.5" fill="#0C0C78" textLength="64.89" lengthAdjust="spacingAndGlyphs">Alignments</text>
<text x="552.63" y="441.3" font-size="13.5" fill="#0C0C78" textLength="11.76" lengthAdjust="spacingAndGlyphs">of</text>
<text x="567.97" y="441.3" font-size="13.5" fill="#0C0C78" textLength="21.98" lengthAdjust="spacingAndGlyphs">100</text>
<text x="593.54" y="441.3" font-size="13.5" fill="#0C0C78" textLength="66.25" lengthAdjust="spacingAndGlyphs">Vertebrates</text>
<text x="191.50" y="456" font-size="13.5" fill="#E0901C" text-anchor="middle">4</text>
<text x="300.00" y="456" font-size="13.5" fill="#E0901C" text-anchor="middle">1</text>
<text x="172.00" y="471" font-size="14" fill="#0C0C78" text-anchor="middle">T</text>
<text x="208.04" y="471" font-size="14" fill="#0C0C78" text-anchor="middle">T</text>
<text x="244.08" y="471" font-size="14" fill="#0C0C78" text-anchor="middle">T</text>
<text x="280.12" y="471" font-size="14" fill="#0C0C78" text-anchor="middle">T</text>
<text x="316.16" y="471" font-size="14" fill="#0C0C78" text-anchor="middle">T</text>
<text x="352.20" y="471" font-size="14" fill="#0C0C78" text-anchor="middle">T</text>
<text x="388.24" y="471" font-size="14" fill="#0C0C78" text-anchor="middle">T</text>
<text x="424.28" y="471" font-size="14" fill="#0C0C78" text-anchor="middle">T</text>
<text x="460.32" y="471" font-size="14" fill="#0C0C78" text-anchor="middle">T</text>
<text x="496.36" y="471" font-size="14" fill="#0C0C78" text-anchor="middle">T</text>
<text x="532.40" y="471" font-size="14" fill="#0C0C78" text-anchor="middle">T</text>
<text x="568.44" y="471" font-size="14" fill="#0C0C78" text-anchor="middle">A</text>
<text x="604.48" y="471" font-size="14" fill="#0C0C78" text-anchor="middle">C</text>
<text x="640.52" y="471" font-size="14" fill="#0C0C78" text-anchor="middle">T</text>
<text x="676.56" y="471" font-size="14" fill="#0C0C78" text-anchor="middle">T</text>
<text x="712.60" y="471" font-size="14" fill="#0C0C78" text-anchor="middle">T</text>
<text x="748.64" y="471" font-size="14" fill="#0C0C78" text-anchor="middle">T</text>
<text x="784.68" y="471" font-size="14" fill="#0C0C78" text-anchor="middle">A</text>
<text x="820.72" y="471" font-size="14" fill="#0C0C78" text-anchor="middle">G</text>
<text x="856.76" y="471" font-size="14" fill="#0C0C78" text-anchor="middle">G</text>
<text x="892.80" y="471" font-size="14" fill="#0C0C78" text-anchor="middle">A</text>
<text x="928.84" y="471" font-size="14" fill="#0C0C78" text-anchor="middle">G</text>
<text x="172.00" y="486.5" font-size="14" fill="#7070AA" text-anchor="middle">-</text>
<text x="208.04" y="486" font-size="14" fill="#0C0C78" text-anchor="middle">T</text>
<text x="244.08" y="486" font-size="14" fill="#0C0C78" text-anchor="middle">T</text>
<text x="280.12" y="486" font-size="14" fill="#0C0C78" text-anchor="middle">T</text>
<text x="316.16" y="486" font-size="14" fill="#0C0C78" text-anchor="middle">T</text>
<text x="352.20" y="486" font-size="14" fill="#0C0C78" text-anchor="middle">T</text>
<text x="388.24" y="486" font-size="14" fill="#7070AA" text-anchor="middle">G</text>
<text x="424.28" y="486" font-size="14" fill="#0C0C78" text-anchor="middle">T</text>
<text x="460.32" y="486" font-size="14" fill="#0C0C78" text-anchor="middle">T</text>
<text x="496.36" y="486" font-size="14" fill="#0C0C78" text-anchor="middle">T</text>
<text x="532.40" y="486" font-size="14" fill="#0C0C78" text-anchor="middle">T</text>
<text x="568.44" y="486" font-size="14" fill="#0C0C78" text-anchor="middle">A</text>
<text x="604.48" y="486" font-size="14" fill="#0C0C78" text-anchor="middle">C</text>
<text x="640.52" y="486" font-size="14" fill="#0C0C78" text-anchor="middle">T</text>
<text x="676.56" y="486" font-size="14" fill="#0C0C78" text-anchor="middle">T</text>
<text x="712.60" y="486" font-size="14" fill="#0C0C78" text-anchor="middle">T</text>
<text x="748.64" y="486" font-size="14" fill="#0C0C78" text-anchor="middle">T</text>
<text x="784.68" y="486" font-size="14" fill="#0C0C78" text-anchor="middle">A</text>
<text x="820.72" y="486" font-size="14" fill="#0C0C78" text-anchor="middle">G</text>
<text x="856.76" y="486" font-size="14" fill="#0C0C78" text-anchor="middle">G</text>
<text x="892.80" y="486" font-size="14" fill="#0C0C78" text-anchor="middle">A</text>
<text x="928.84" y="486" font-size="14" fill="#0C0C78" text-anchor="middle">G</text>
<text x="172.00" y="501.5" font-size="11" fill="#7070AA" text-anchor="middle">=</text>
<text x="208.04" y="501.5" font-size="11" fill="#7070AA" text-anchor="middle">=</text>
<text x="244.08" y="501.5" font-size="11" fill="#7070AA" text-anchor="middle">=</text>
<text x="280.12" y="501.5" font-size="11" fill="#7070AA" text-anchor="middle">=</text>
<text x="316.16" y="501.5" font-size="11" fill="#7070AA" text-anchor="middle">=</text>
<text x="352.20" y="501.5" font-size="11" fill="#7070AA" text-anchor="middle">=</text>
<text x="388.24" y="501.5" font-size="11" fill="#7070AA" text-anchor="middle">=</text>
<text x="424.28" y="501.5" font-size="11" fill="#7070AA" text-anchor="middle">=</text>
<text x="460.32" y="501.5" font-size="11" fill="#7070AA" text-anchor="middle">=</text>
<text x="496.36" y="501.5" font-size="11" fill="#7070AA" text-anchor="middle">=</text>
<text x="532.40" y="501.5" font-size="11" fill="#7070AA" text-anchor="middle">=</text>
<text x="568.44" y="501.5" font-size="11" fill="#7070AA" text-anchor="middle">=</text>
<text x="604.48" y="501.5" font-size="11" fill="#7070AA" text-anchor="middle">=</text>
<text x="640.52" y="501.5" font-size="11" fill="#7070AA" text-anchor="middle">=</text>
<text x="676.56" y="501.5" font-size="11" fill="#7070AA" text-anchor="middle">=</text>
<text x="712.60" y="501.5" font-size="11" fill="#7070AA" text-anchor="middle">=</text>
<text x="748.64" y="501.5" font-size="11" fill="#7070AA" text-anchor="middle">=</text>
<text x="784.68" y="501.5" font-size="11" fill="#7070AA" text-anchor="middle">=</text>
<text x="820.72" y="501.5" font-size="11" fill="#7070AA" text-anchor="middle">=</text>
<text x="856.76" y="501.5" font-size="11" fill="#7070AA" text-anchor="middle">=</text>
<text x="892.80" y="501.5" font-size="11" fill="#7070AA" text-anchor="middle">=</text>
<text x="928.84" y="501.5" font-size="11" fill="#7070AA" text-anchor="middle">=</text>
<text x="172.00" y="516.5" font-size="11" fill="#7070AA" text-anchor="middle">=</text>
<text x="208.04" y="516.5" font-size="11" fill="#7070AA" text-anchor="middle">=</text>
<text x="244.08" y="516" font-size="14" fill="#0C0C78" text-anchor="middle">T</text>
<text x="280.12" y="516.5" font-size="11" fill="#7070AA" text-anchor="middle">=</text>
<text x="316.16" y="516.5" font-size="11" fill="#7070AA" text-anchor="middle">=</text>
<text x="352.20" y="516" font-size="14" fill="#0C0C78" text-anchor="middle">T</text>
<text x="388.24" y="516" font-size="14" fill="#0C0C78" text-anchor="middle">T</text>
<text x="424.28" y="516" font-size="14" fill="#0C0C78" text-anchor="middle">T</text>
<text x="460.32" y="516" font-size="14" fill="#0C0C78" text-anchor="middle">T</text>
<text x="496.36" y="516" font-size="14" fill="#0C0C78" text-anchor="middle">T</text>
<text x="532.40" y="516" font-size="14" fill="#7070AA" text-anchor="middle">A</text>
<text x="568.44" y="516" font-size="14" fill="#0C0C78" text-anchor="middle">A</text>
<text x="604.48" y="516" font-size="14" fill="#7070AA" text-anchor="middle">G</text>
<text x="640.52" y="516" font-size="14" fill="#0C0C78" text-anchor="middle">T</text>
<text x="676.56" y="516" font-size="14" fill="#0C0C78" text-anchor="middle">T</text>
<text x="712.60" y="516" font-size="14" fill="#0C0C78" text-anchor="middle">T</text>
<text x="748.64" y="516" font-size="14" fill="#0C0C78" text-anchor="middle">T</text>
<text x="784.68" y="516" font-size="14" fill="#0C0C78" text-anchor="middle">A</text>
<text x="820.72" y="516.5" font-size="11" fill="#7070AA" text-anchor="middle">=</text>
<text x="856.76" y="516.5" font-size="11" fill="#7070AA" text-anchor="middle">=</text>
<text x="892.80" y="516.5" font-size="11" fill="#7070AA" text-anchor="middle">=</text>
<text x="928.84" y="516.5" font-size="11" fill="#7070AA" text-anchor="middle">=</text>
<text x="172.00" y="531" font-size="14" fill="#0C0C78" text-anchor="middle">T</text>
<text x="208.04" y="531" font-size="14" fill="#0C0C78" text-anchor="middle">T</text>
<text x="244.08" y="531.5" font-size="14" fill="#7070AA" text-anchor="middle">-</text>
<text x="280.12" y="531.5" font-size="14" fill="#7070AA" text-anchor="middle">-</text>
<text x="316.16" y="531.5" font-size="14" fill="#7070AA" text-anchor="middle">-</text>
<text x="352.20" y="531" font-size="14" fill="#0C0C78" text-anchor="middle">T</text>
<text x="388.24" y="531" font-size="14" fill="#0C0C78" text-anchor="middle">T</text>
<text x="424.28" y="531" font-size="14" fill="#0C0C78" text-anchor="middle">T</text>
<text x="460.32" y="531" font-size="14" fill="#0C0C78" text-anchor="middle">T</text>
<text x="496.36" y="531" font-size="14" fill="#0C0C78" text-anchor="middle">T</text>
<text x="532.40" y="531" font-size="14" fill="#0C0C78" text-anchor="middle">T</text>
<text x="568.44" y="531" font-size="14" fill="#7070AA" text-anchor="middle">C</text>
<text x="604.48" y="531" font-size="14" fill="#0C0C78" text-anchor="middle">C</text>
<text x="640.52" y="531" font-size="14" fill="#0C0C78" text-anchor="middle">T</text>
<text x="676.56" y="531" font-size="14" fill="#0C0C78" text-anchor="middle">T</text>
<text x="712.60" y="531" font-size="14" fill="#0C0C78" text-anchor="middle">T</text>
<text x="748.64" y="531" font-size="14" fill="#0C0C78" text-anchor="middle">T</text>
<text x="784.68" y="531" font-size="14" fill="#0C0C78" text-anchor="middle">A</text>
<text x="820.72" y="531" font-size="14" fill="#0C0C78" text-anchor="middle">G</text>
<text x="856.76" y="531" font-size="14" fill="#0C0C78" text-anchor="middle">G</text>
<text x="892.80" y="531" font-size="14" fill="#0C0C78" text-anchor="middle">A</text>
<text x="928.84" y="531" font-size="14" fill="#0C0C78" text-anchor="middle">G</text>
<rect x="192" y="518" width="1" height="13" fill="#E0901C"/>
<rect x="300" y="518" width="1" height="13" fill="#E0901C"/>
<text x="440.79" y="592" font-size="13.5" fill="#000" textLength="223.03" lengthAdjust="spacingAndGlyphs">Repeating Elements by RepeatMasker</text>
<rect x="156" y="594" width="433" height="15" fill="#000"/>
</svg>
</body></html>
